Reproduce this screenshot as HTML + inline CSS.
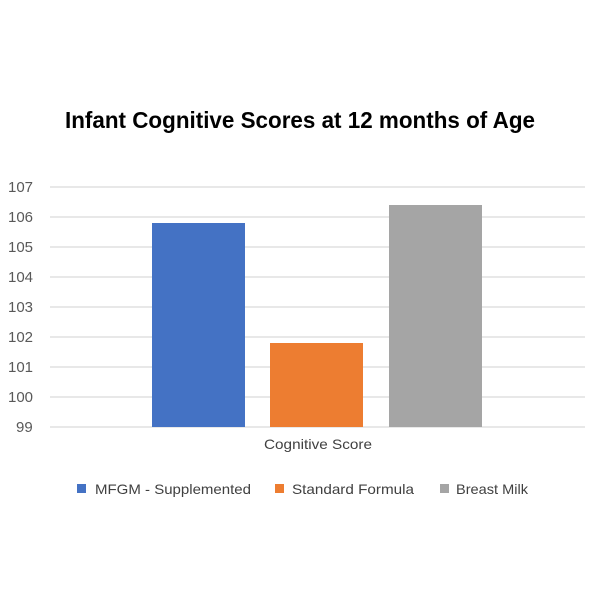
<!DOCTYPE html>
<html><head><style>
body{margin:0;background:#fff;}
</style></head><body>
<svg width="600" height="600" xmlns="http://www.w3.org/2000/svg" font-family="Liberation Sans, sans-serif">
<rect width="600" height="600" fill="#fff"/>
<text x="300" y="128" text-anchor="middle" font-size="23" font-weight="bold" fill="#000" textLength="470" lengthAdjust="spacingAndGlyphs">Infant Cognitive Scores at 12 months of Age</text>
<g stroke="#d9d9d9" stroke-width="1.3">
<line x1="50" x2="585" y1="187" y2="187"/>
<line x1="50" x2="585" y1="217" y2="217"/>
<line x1="50" x2="585" y1="247" y2="247"/>
<line x1="50" x2="585" y1="277" y2="277"/>
<line x1="50" x2="585" y1="307" y2="307"/>
<line x1="50" x2="585" y1="337" y2="337"/>
<line x1="50" x2="585" y1="367" y2="367"/>
<line x1="50" x2="585" y1="397" y2="397"/>
<line x1="50" x2="585" y1="427" y2="427"/>
</g>
<g font-size="15" fill="#595959">
<text x="8" y="192">107</text>
<text x="8" y="222">106</text>
<text x="8" y="252">105</text>
<text x="8" y="282">104</text>
<text x="8" y="312">103</text>
<text x="8" y="342">102</text>
<text x="8" y="372">101</text>
<text x="8" y="402">100</text>
<text x="16" y="432">99</text>
</g>
<rect x="152" y="223" width="93" height="204" fill="#4472c4"/>
<rect x="270" y="343" width="93" height="84" fill="#ed7d31"/>
<rect x="389" y="205" width="93" height="222" fill="#a5a5a5"/>
<text x="318" y="449" text-anchor="middle" font-size="14" fill="#404040" textLength="108" lengthAdjust="spacingAndGlyphs">Cognitive Score</text>
<g font-size="14" fill="#404040">
<rect x="77" y="484" width="9" height="9" fill="#4472c4"/>
<text x="95" y="494" textLength="156" lengthAdjust="spacingAndGlyphs">MFGM - Supplemented</text>
<rect x="275" y="484" width="9" height="9" fill="#ed7d31"/>
<text x="292" y="494" textLength="122" lengthAdjust="spacingAndGlyphs">Standard Formula</text>
<rect x="440" y="484" width="9" height="9" fill="#a5a5a5"/>
<text x="456" y="494" textLength="72" lengthAdjust="spacingAndGlyphs">Breast Milk</text>
</g>
</svg>
</body></html>
